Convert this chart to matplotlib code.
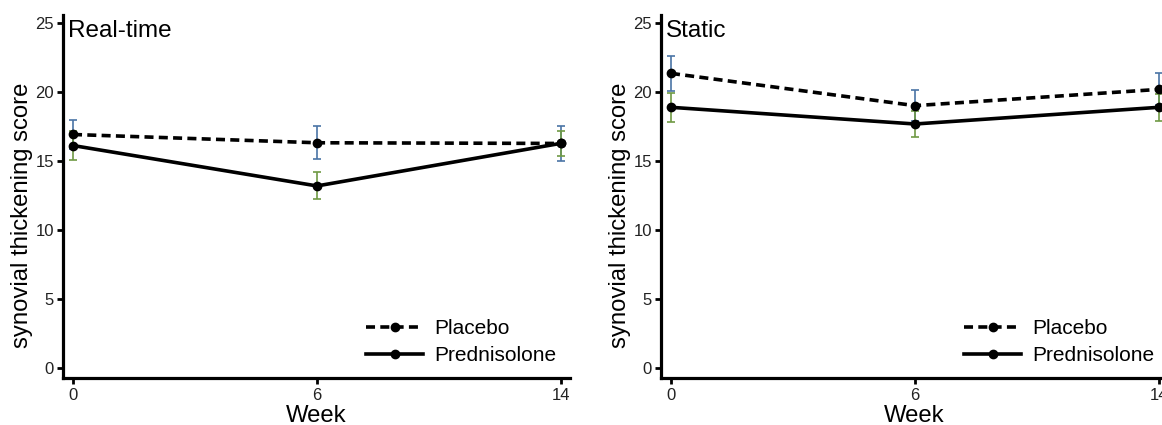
import matplotlib.pyplot as plt
import numpy as np

# ==============================
# data
# ==============================
weeks = ['0', '6', '14']

realtime_placebo = [16.9, 16.3, 16.25]
realtime_placebo_err = [1.05, 1.2, 1.27]
realtime_pred = [16.1, 13.17, 16.26]
realtime_pred_err = [1.05, 0.98, 0.9]

static_placebo = [21.33, 18.99, 20.17]
static_placebo_err = [1.26, 1.13, 1.16]
static_pred = [18.87, 17.66, 18.87]
static_pred_err = [1.05, 0.96, 1.0]

panels = [
    ('Real-time', realtime_placebo, realtime_placebo_err, realtime_pred, realtime_pred_err),
    ('Static', static_placebo, static_placebo_err, static_pred, static_pred_err),
]

# ==============================
# style
# ==============================
plt.rcParams.update({
    "font.family": ["Liberation Sans", "DejaVu Sans"],
    "lines.scale_dashes": False,
})

COLOR_BLUE = "#4a74a6"
COLOR_GREEN = "#6f9a44"
DASH = (0, (6.5, 3.8))

W, H = 1162, 425
fig = plt.figure(figsize=(W / 100, H / 100), dpi=100)

ax_w = 507 / W
ax_b = 1 - 378 / H
ax_h = (378 - 15) / H
lefts = [63 / W, 661 / W]

x = np.arange(len(weeks))

for left, (title, plac, plac_err, pred, pred_err) in zip(lefts, panels):
    ax = fig.add_axes([left, ax_b, ax_w, ax_h])

    ax.errorbar(x, plac, yerr=plac_err, fmt='none', ecolor=COLOR_BLUE,
                elinewidth=1.2, capsize=2.8, capthick=1.2, zorder=2)
    ax.errorbar(x, pred, yerr=pred_err, fmt='none', ecolor=COLOR_GREEN,
                elinewidth=1.2, capsize=2.8, capthick=1.2, zorder=2)

    ax.plot(x, plac, color='black', linestyle=DASH, linewidth=2.6,
            marker='o', markersize=6, label='Placebo', zorder=3)
    ax.plot(x, pred, color='black', linestyle='-', linewidth=2.6,
            marker='o', markersize=6, label='Prednisolone', zorder=3)

    ax.set_xlim(-0.041, 2.037)
    ax.set_ylim(-0.75, 25.56)
    ax.set_xticks(x)
    ax.set_xticklabels(weeks)
    ax.set_yticks([0, 5, 10, 15, 20, 25])

    for s in ['top', 'right']:
        ax.spines[s].set_visible(False)
    for s in ['left', 'bottom']:
        ax.spines[s].set_linewidth(2.3)
    ax.tick_params(axis='both', length=4, width=2.0, labelsize=12,
                   color='black', labelcolor='#222222')
    ax.tick_params(axis='x', pad=3.0)
    ax.tick_params(axis='y', pad=2.5)

    ax.set_xlabel('Week', fontsize=17.2)
    ax.xaxis.set_label_coords(0.5, -0.074)
    ax.set_ylabel('synovial thickening score', fontsize=17.2)
    ax.yaxis.set_label_coords(-0.059, 0.449)

    ax.text(0.01, (378 - 37) / 363, title, transform=ax.transAxes,
            fontsize=17.5, ha='left', va='baseline')

    ax.legend(loc='lower left', bbox_to_anchor=(0.598, 0.035), frameon=False,
              fontsize=15, handlelength=2.75, handletextpad=0.5,
              labelspacing=0.38, borderpad=0, borderaxespad=0)

fig.savefig('out.png', dpi=100)
